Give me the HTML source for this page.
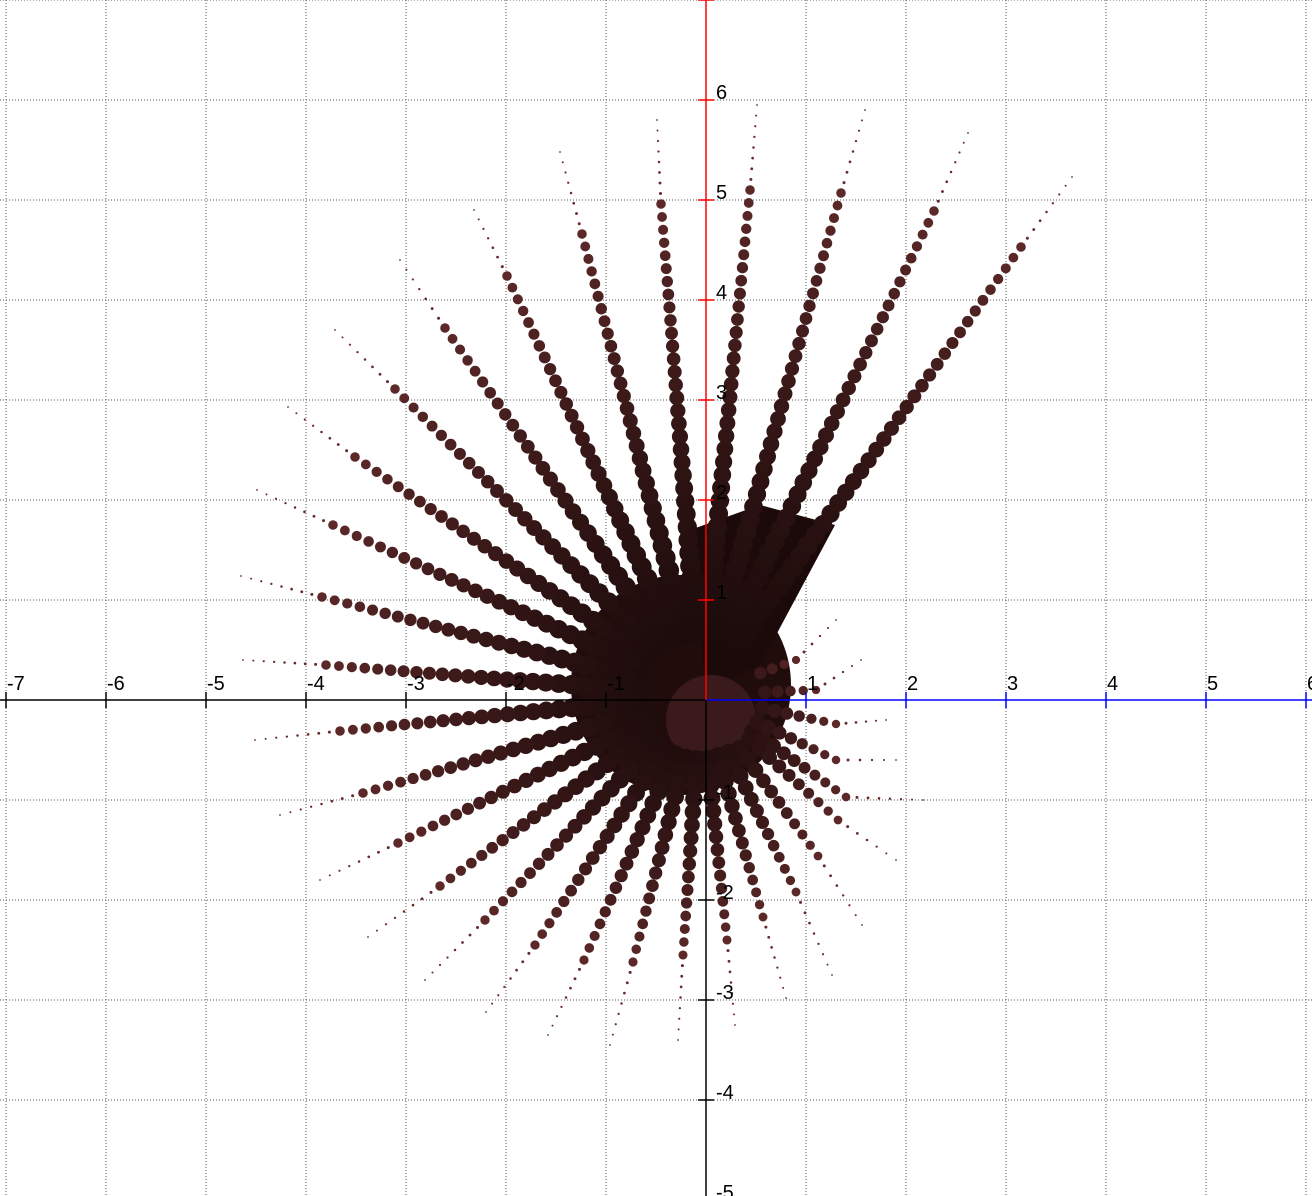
<!DOCTYPE html>
<html><head><meta charset="utf-8"><style>
html,body{margin:0;padding:0;background:#fff}
svg{display:block}
text{font-family:"Liberation Sans",sans-serif;font-size:20px;fill:#000}
</style></head><body>
<svg id="chart" width="1312" height="1196" viewBox="0 0 1312 1196" xmlns="http://www.w3.org/2000/svg">
<g id="grid"></g>
<g id="marks"></g>
<g id="axes"></g>
</svg>
<script>
const xTicks=[-7,-6,-5,-4,-3,-2,-1,1,2,3,4,5,6];
const yTicks=[6,5,4,3,2,1,-1,-2,-3,-4,-5];
const rayStart=[-0.05,0.05];
const bigEndX=[3.15,2.28,1.35,0.44,-0.45,-1.24,-1.99,-2.61,-3.11,-3.51,-3.73,-3.84,-3.80,-3.66,-3.43,-3.08,-2.66,-2.21,-1.71,-1.22,-0.73,-0.23,0.21,0.57,0.90,1.12,1.32,1.40,1.30,1.30,1.10,0.90];
const bigEndY=[4.53,4.89,5.07,5.10,4.96,4.66,4.24,3.72,3.11,2.43,1.75,1.03,0.35,-0.31,-0.93,-1.43,-1.86,-2.20,-2.45,-2.60,-2.62,-2.55,-2.40,-2.17,-1.92,-1.56,-1.20,-0.97,-0.60,-0.24,0.10,0.40];
const tailEndX=[3.66,2.62,1.59,0.51,-0.49,-1.46,-2.32,-3.06,-3.71,-4.18,-4.49,-4.65,-4.63,-4.51,-4.26,-3.86,-3.38,-2.81,-2.20,-1.58,-0.96,-0.28,0.29,0.80,1.26,1.56,1.90,2.17,1.90,1.80,1.55,1.30];
const tailEndY=[5.23,5.67,5.90,5.95,5.80,5.48,4.90,4.40,3.70,2.93,2.10,1.24,0.40,-0.40,-1.15,-1.80,-2.37,-2.80,-3.12,-3.35,-3.45,-3.40,-3.25,-2.98,-2.75,-2.25,-1.60,-1.00,-0.60,-0.20,0.40,0.80];

const NS='http://www.w3.org/2000/svg';
const X=v=>706+100*v, Y=v=>700-100*v;
function mk(tag,attrs,parent){const e=document.createElementNS(NS,tag);for(const k in attrs)e.setAttribute(k,attrs[k]);parent.appendChild(e);return e;}
const grid=document.getElementById('grid'),marks=document.getElementById('marks'),axes=document.getElementById('axes');
for(let i=-7;i<=6;i++){const l=mk('line',{x1:X(i),x2:X(i),y1:0,y2:1196,stroke:'#555','stroke-dasharray':'1,2','stroke-width':1},grid);}
for(let j=-5;j<=7;j++){const l=mk('line',{x1:0,x2:1312,y1:Y(j),y2:Y(j),stroke:'#555','stroke-dasharray':'1,2','stroke-width':1},grid);}

function lerpC(t){const a=[26,10,10],b=[92,40,40];return 'rgb('+a.map((v,i)=>Math.round(v+(b[i]-v)*t)).join(',')+')';}
const core=mk('circle',{cx:X(-0.25),cy:Y(0.15),r:110,fill:'#210c0c'},marks);
const wedge=mk('polygon',{points:'690,530 760,505 835,525 760,665 706,690',fill:'#1c0a0a'},marks);
const core2=mk('circle',{cx:X(0.05),cy:Y(-0.2),r:45,fill:'#3a1a1a'},marks);
for(let k=0;k<bigEndX.length;k++){
  const sx=X(rayStart[0]),sy=Y(rayStart[1]);
  const bx=X(bigEndX[k]),by=Y(bigEndY[k]),tx=X(tailEndX[k]),ty=Y(tailEndY[k]);
  const L=Math.hypot(bx-sx,by-sy);const n=Math.max(4,Math.round(L/13));
  const g=mk('g',{},marks);
  const scale=Math.min(1,L/350);
  for(let i=0;i<=n;i++){const t=i/n;if(t*L<60)continue;
    const r=(4.8+8*Math.pow(1-t,1.2))*(0.8+0.2*scale);
    const c=mk('circle',{cx:sx+(bx-sx)*t,cy:sy+(by-sy)*t,r:r.toFixed(2),fill:lerpC(Math.pow(t,1.5))},g);
    }
  const TL=Math.hypot(tx-bx,ty-by);const m=Math.max(2,Math.round(TL/11));
  for(let i=1;i<=m;i++){const t=i/m;
    const c=mk('circle',{cx:bx+(tx-bx)*t,cy:by+(ty-by)*t,r:(1.6-0.7*t).toFixed(2),fill:'#6a2a2a'},g);
    }
}
function ln(x1,y1,x2,y2,s,name){const l=mk('line',{x1,y1,x2,y2,stroke:s,'stroke-width':1.5},axes);}
ln(0,700,706,700,'#000','x-axis-negative');ln(706,700,1312,700,'#0000ff','x-axis-positive');
ln(706,0,706,700,'#ff0000','y-axis-positive');ln(706,700,706,1196,'#000','y-axis-negative');
xTicks.forEach(v=>{const c=v>0?'#0000ff':'#000';ln(X(v),692,X(v),708,c,'x-tick');
  const t=mk('text',{x:X(v)+1,y:690},axes);t.textContent=v;});
yTicks.forEach(v=>{const c=v>0?'#ff0000':'#000';ln(698,Y(v),714,Y(v),c,'y-tick');
  const t=mk('text',{x:716,y:Y(v)-1},axes);t.textContent=v;});
ln(698,0,714,0,'#ff0000','y-tick');
</script>
</body></html>
